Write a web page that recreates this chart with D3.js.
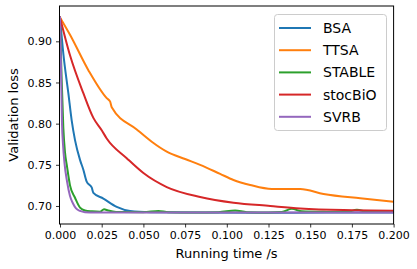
<!DOCTYPE html>
<html><head><meta charset="utf-8">
<script src="https://cdn.jsdelivr.net/npm/d3@7"></script>
<style>
body{margin:0;background:#fff;}
svg{display:block;font-family:"DejaVu Sans",sans-serif;}
</style></head><body>
<svg id="c" width="417" height="269"></svg>
<script>
const seriesNames = ["BSA","TTSA","STABLE","stocBiO","SVRB"];
const seriesColors = ["#1f77b4","#ff7f0e","#2ca02c","#d62728","#9467bd"];
const xTicks = [0,0.025,0.05,0.075,0.1,0.125,0.15,0.175,0.2];
const yTicks = [0.70,0.75,0.80,0.85,0.90];

const bsaT = [0,0.002,0.005,0.007,0.009,0.012,0.014,0.016,0.019,0.020,0.026,0.034,0.042,0.054,0.08,0.12,0.16,0.2];
const bsaV = [0.929,0.885,0.837,0.804,0.780,0.756,0.744,0.7295,0.7225,0.716,0.709,0.699,0.694,0.6925,0.692,0.6918,0.692,0.692];

const ttsaT = [0,0.006,0.017,0.028,0.030,0.031,0.046,0.055,0.064,0.075,0.084,0.096,0.104,0.114,0.127,0.144,0.158,0.180,0.200];
const ttsaV = [0.929,0.908,0.865,0.831,0.827,0.820,0.793,0.778,0.766,0.757,0.750,0.739,0.7316,0.7255,0.7206,0.7206,0.7146,0.7093,0.7052];

const stableT = [0,0.0009,0.002,0.003,0.0042,0.006,0.009,0.012,0.015,0.0192,0.024,0.0264,0.0288,0.0336,0.05,0.059,0.065,0.08,0.095,0.105,0.112,0.125,0.133,0.139,0.145,0.16,0.172,0.178,0.184,0.2];
const stableV = [0.929,0.86,0.795,0.765,0.748,0.725,0.710,0.698,0.6945,0.6935,0.693,0.696,0.6945,0.6927,0.6925,0.694,0.6925,0.6922,0.6925,0.6945,0.6925,0.6922,0.6928,0.6965,0.6935,0.6928,0.6926,0.6955,0.6928,0.6927];

const stocT = [0,0.006,0.014,0.020,0.025,0.028,0.040,0.050,0.064,0.084,0.104,0.126,0.144,0.170,0.200];
const stocV = [0.929,0.883,0.837,0.807,0.792,0.782,0.758,0.740,0.723,0.711,0.704,0.700,0.697,0.695,0.6943];

const svrbT = [0,0.0006,0.0012,0.0018,0.0027,0.0042,0.006,0.0078,0.0096,0.012,0.015,0.021,0.05,0.1,0.15,0.2];
const svrbV = [0.929,0.87,0.80,0.775,0.752,0.730,0.712,0.703,0.697,0.694,0.6925,0.692,0.692,0.692,0.692,0.692];

const allT = [bsaT, ttsaT, stableT, stocT, svrbT];
const allV = [bsaV, ttsaV, stableV, stocV, svrbV];

const L=59.5, R=393.6, T=6, B=224;
const svg = d3.select("#c");
const x = d3.scaleLinear().domain([0,0.2]).range([60,393.6]);
const y = d3.scaleLinear().domain([0.6781,0.9429]).range([B,T]);

svg.append("clipPath").attr("id","clip").append("rect")
  .attr("x",L).attr("y",T).attr("width",R-L).attr("height",B-T);

const line = d3.line().x(d=>x(d[0])).y(d=>y(d[1])).curve(d3.curveMonotoneX);
const g = svg.append("g").attr("clip-path","url(#clip)");
allT.forEach((ts,i)=>{
  const pts = ts.map((t,j)=>[t, allV[i][j]]);
  g.append("path").datum(pts).attr("d",line)
    .attr("fill","none").attr("stroke",seriesColors[i])
    .attr("stroke-width",2).attr("stroke-linejoin","round").attr("stroke-linecap","square");
});

// axes
const xa = svg.append("g").attr("transform",`translate(0,${B})`)
  .call(d3.axisBottom(x).tickValues(xTicks).tickFormat(d3.format(".3f")).tickSizeOuter(0).tickSize(3.5).tickPadding(4));
const ya = svg.append("g").attr("transform",`translate(${L},0)`)
  .call(d3.axisLeft(y).tickValues(yTicks).tickFormat(d3.format(".2f")).tickSizeOuter(0).tickSize(3.5).tickPadding(4));
[xa,ya].forEach(a=>{
  a.select(".domain").remove();
  a.selectAll("text").attr("font-size",11).attr("font-family","DejaVu Sans").attr("fill","#000");
  a.selectAll("line").attr("stroke","#000").attr("stroke-width",0.8);
});

// frame
svg.append("rect").attr("x",L).attr("y",T).attr("width",R-L).attr("height",B-T)
  .attr("fill","none").attr("stroke","#000").attr("stroke-width",1);

// labels
svg.append("text").attr("x",(L+R)/2).attr("y",258).attr("text-anchor","middle")
  .attr("font-size",13).text("Running time /s");
svg.append("text").attr("transform",`translate(18,${(T+B)/2}) rotate(-90)`)
  .attr("text-anchor","middle").attr("font-size",13).text("Validation loss");

// legend
const lg = svg.append("g");
lg.append("rect").attr("x",274.5).attr("y",14.5).attr("width",112).attr("height",116).attr("rx",3)
  .attr("fill","#fff").attr("fill-opacity",0.8).attr("stroke","#ccc").attr("stroke-width",1);
seriesNames.forEach((n,i)=>{
  const yy = 28 + i*22.2;
  lg.append("line").attr("x1",279).attr("x2",311).attr("y1",yy).attr("y2",yy)
    .attr("stroke",seriesColors[i]).attr("stroke-width",2);
  lg.append("text").attr("x",323).attr("y",yy+5).attr("font-size",14).text(n);
});
</script></body></html>
